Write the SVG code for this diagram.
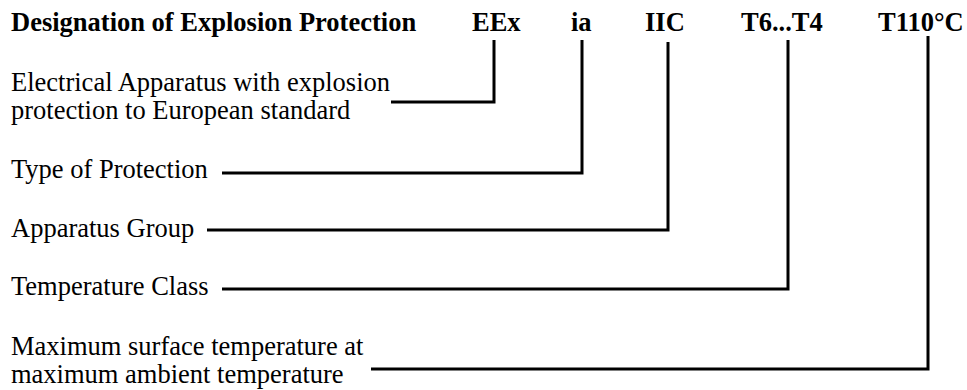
<svg xmlns="http://www.w3.org/2000/svg" width="967" height="390" viewBox="0 0 967 390">
<style>
.h{font-family:"Liberation Serif","Times New Roman",serif;font-weight:bold;font-size:26.5px;fill:#000}
.t{font-family:"Liberation Serif","Times New Roman",serif;font-size:26.5px;fill:#000}
.c{fill:none;stroke:#000;stroke-width:3;stroke-linejoin:miter;stroke-linecap:butt}
</style>
<rect width="967" height="390" fill="#fff"/>
<g id="header">
<text class="h" x="11" y="31">Designation of Explosion Protection</text>
<text class="h" x="472" y="31">EEx</text>
<text class="h" x="571" y="31">ia</text>
<text class="h" x="645" y="31">IIC</text>
<text class="h" x="741" y="31">T6...T4</text>
<text class="h" x="878" y="31">T110°C</text>
</g>
<g id="node-eex"><text class="t" x="11" y="90.5">Electrical Apparatus with explosion</text><text class="t" x="11" y="119">protection to European standard</text></g>
<g id="node-ia"><text class="t" x="11" y="178">Type of Protection</text></g>
<g id="node-iic"><text class="t" x="11" y="236.5">Apparatus Group</text></g>
<g id="node-t"><text class="t" x="11" y="295">Temperature Class</text></g>
<g id="node-tmax"><text class="t" x="11" y="355">Maximum surface temperature at</text><text class="t" x="11" y="383">maximum ambient temperature</text></g>
<g id="connectors">
<path class="c" d="M391,102 H494 V40"/>
<path class="c" d="M222,173 H582 V40"/>
<path class="c" d="M207,230 H668 V42"/>
<path class="c" d="M222,289 H788 V40"/>
<path class="c" d="M371,369 H928 V36"/>
</g>
</svg>
